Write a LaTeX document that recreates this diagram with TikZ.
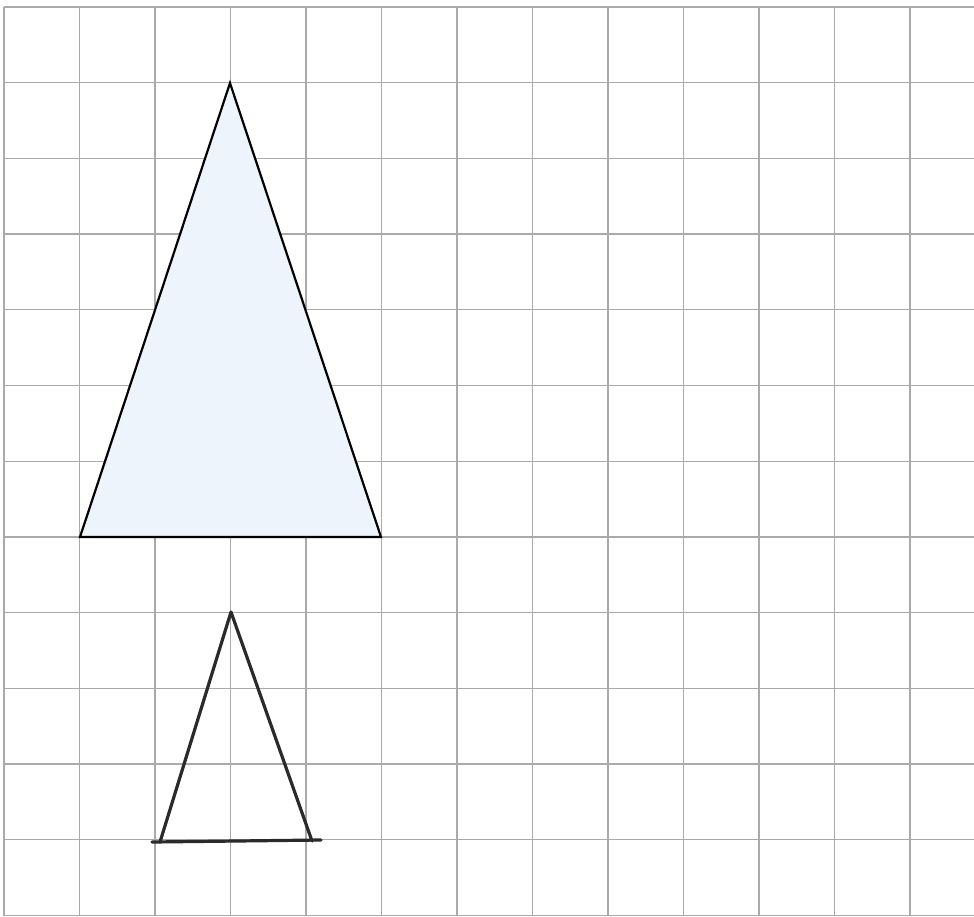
\documentclass[tikz,border=0pt]{standalone}
\definecolor{gridgray}{HTML}{AAAAAA}
\definecolor{paleblue}{HTML}{EDF4FC}
\definecolor{pen}{HTML}{2A2A2A}
\begin{document}
\begin{tikzpicture}[x=1pt,y=-1pt,
  gridline/.style={draw=gridgray,line width=1.3pt},
  bigtri/.style={draw=black,line width=2.2pt,fill=paleblue,line join=miter},
  smalltri/.style={draw=pen,line width=3.2pt,line join=round,line cap=round}]
\useasboundingbox (0,0) rectangle (974,916);
\fill[white] (0,0) rectangle (974,916);
% grid
\foreach \i in {0,...,12}{
  \draw[gridline] ({4+75.5*\i},7) -- ({4+75.5*\i},916);
  \draw[gridline] (4,{7+75.7*\i}) -- (974,{7+75.7*\i});
}
% big triangle
\coordinate (A) at (230,83);
\coordinate (B) at (80,537);
\coordinate (C) at (381,537);
\draw[bigtri] (A) -- (B) -- (C) -- cycle;
% small triangle
\coordinate (P) at (231,612);
\coordinate (Q) at (160,842);
\coordinate (R) at (312,841);
\coordinate (Ql) at (152,842);
\coordinate (Rr) at (321,840);
\draw[smalltri] (Q) -- (P) -- (R);
\draw[smalltri] (Ql) -- (Rr);
\end{tikzpicture}
\end{document}
